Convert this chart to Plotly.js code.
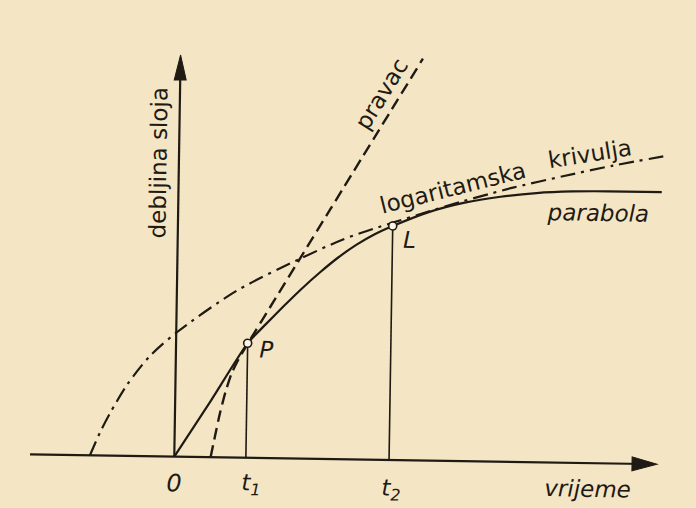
<!DOCTYPE html>
<html><head><meta charset="utf-8">
<script src="https://cdn.plot.ly/plotly-3.0.1.min.js"></script>
<style>
html,body{margin:0;padding:0;background:#f4e6c4;overflow:hidden;}
#chart{width:696px;height:508px;transform:rotate(0.9deg);}
</style></head><body><div id="chart"></div>
<script>
// ---- data (time t in units of t1, thickness in same units) ----
const parabolaT = [0, 0.5, 1.0, 1.25, 1.5, 1.75, 2.0, 2.25, 2.5, 2.75, 3.0, 3.5, 4.0, 4.5, 5.0, 5.5, 6.0, 6.75];
const parabolaY = [0, 0.79, 1.6, 1.87, 2.13, 2.38, 2.61, 2.82, 3.00, 3.15, 3.268, 3.47, 3.61, 3.70, 3.76, 3.79, 3.80, 3.80];

const pravacT = [0.507, 0.565, 0.628, 0.70, 0.783, 0.89, 1.01, 1.349, 1.712, 2.121, 3.385];
const pravacY = [0, 0.30, 0.615, 0.91, 1.176, 1.40, 1.61, 2.181, 2.793, 3.482, 5.612];

const logT = [-1.178, -1.043, -0.908, -0.677, -0.362, 0, 0.835, 1.712, 2.309, 2.777, 3.0, 3.517, 3.975, 4.351, 4.671, 5.366, 6.063, 6.814];
const logY = [0, 0.32, 0.59, 0.99, 1.40, 1.73, 2.33, 2.79, 3.07, 3.24, 3.315, 3.485, 3.63, 3.74, 3.83, 4.00, 4.16, 4.31];

const pointNames = ['P', 'L'];
const pointT = [1, 3];
const pointY = [1.6, 3.268];

const tickLabels = ['0', 't<sub>1</sub>', 't<sub>2</sub>'];
const tickT = [0, 1, 3];

const xAxisStart = -2.015, xAxisEnd = 6.743, yAxisEnd = 5.61;

// ---- style ----
const ink = '#1f1a14';
const paper = '#f4e6c4';
const FONT = 'DejaVu Sans, sans-serif';
const xr = [-2.479, 7.242], yr = [-0.680, 6.415];
const W = 696, H = 508;
const ppx = W / (xr[1] - xr[0]);
const ppy = H / (yr[1] - yr[0]);

// drop lines
const dropX = [], dropY = [];
pointT.forEach((t, i) => { dropX.push(t, t, null); dropY.push(0, pointY[i], null); });

const traces = [
  {x: logT, y: logY, mode: 'lines', line: {color: ink, width: 2.2, dash: '15px,6px,3px,6px', shape: 'spline', smoothing: 0.8}},
  {x: pravacT, y: pravacY, mode: 'lines', line: {color: ink, width: 2.4, dash: '12px,6px', shape: 'spline', smoothing: 0.6}},
  {x: parabolaT, y: parabolaY, mode: 'lines', line: {color: ink, width: 2.2, shape: 'spline', smoothing: 0.6}},
  {x: dropX, y: dropY, mode: 'lines', line: {color: ink, width: 1.6}},
  {x: pointT, y: pointY, mode: 'markers', marker: {size: 8, color: '#fbf5e6', line: {color: ink, width: 1.6}}}
];

// arrow heads
const hl = 25, hw = 7;
const xHead = `M ${xAxisEnd},0 L ${xAxisEnd - hl/ppx},${hw/ppy} L ${xAxisEnd - hl/ppx},${-hw/ppy} Z`;
const yHead = `M 0,${yAxisEnd} L ${-6/ppx},${yAxisEnd - hl/ppy} L ${6/ppx},${yAxisEnd - hl/ppy} Z`;

const shapes = [
  {type: 'line', xref: 'x', yref: 'y', x0: xAxisStart, y0: 0, x1: xAxisEnd - hl/ppx*0.5, y1: 0, line: {color: ink, width: 2.2}},
  {type: 'line', xref: 'x', yref: 'y', x0: 0, y0: 0, x1: 0, y1: yAxisEnd - hl/ppy*0.5, line: {color: ink, width: 2.2}},
  {type: 'path', xref: 'x', yref: 'y', path: xHead, fillcolor: ink, line: {color: ink, width: 1}},
  {type: 'path', xref: 'x', yref: 'y', path: yHead, fillcolor: ink, line: {color: ink, width: 1}}
];

function ann(text, x, y, size, angle, italic) {
  return {text: text, x: x, y: y, xref: 'x', yref: 'y', showarrow: false,
    textangle: angle || 0,
    font: {family: FONT, size: size, color: ink, style: italic ? 'italic' : 'normal'}};
}

const annotations = [
  ann('pravac', 2.82, 5.11, 23, -59),
  ann('logaritamska', 3.834, 3.818, 23, -15),
  ann('krivulja', 5.732, 4.324, 23, -10),
  ann('parabola', 5.856, 3.501, 23, 0, true),
  ann('vrijeme', 5.785, -0.362, 23, 0, true),
  ann('debljina sloja', -0.29, 4.10, 23, -90),
  ann(pointNames[0], 1.267, 1.508, 23, 0, true),
  ann(pointNames[1], 3.244, 3.077, 23, 0, true),
  ann(tickLabels[0], tickT[0], -0.369, 24, 0, true),
  ann(tickLabels[1], tickT[1] + 0.07, -0.37, 23, 0, true),
  ann(tickLabels[2], tickT[2] + 0.03, -0.42, 23, 0, true)
];

const layout = {
  width: W, height: H, margin: {l: 0, r: 0, t: 0, b: 0},
  paper_bgcolor: paper, plot_bgcolor: paper, showlegend: false, hovermode: false,
  xaxis: {range: xr, visible: false, fixedrange: true},
  yaxis: {range: yr, visible: false, fixedrange: true},
  shapes: shapes, annotations: annotations
};

Plotly.newPlot('chart', traces, layout, {displayModeBar: false, staticPlot: true});
</script></body></html>
